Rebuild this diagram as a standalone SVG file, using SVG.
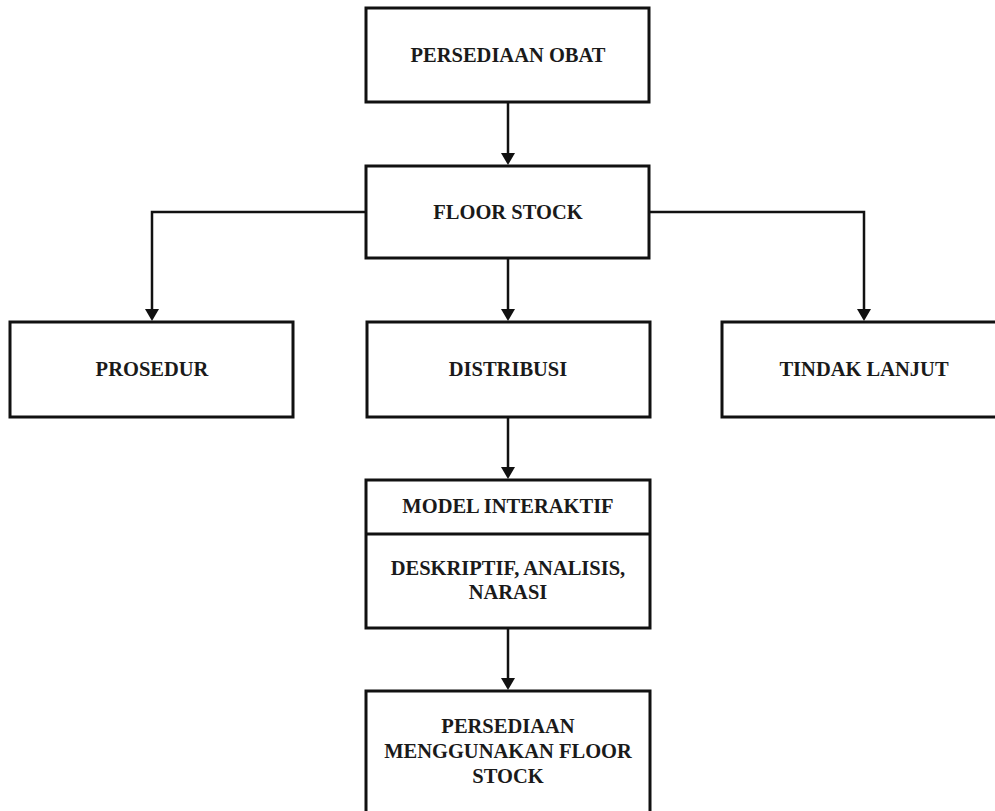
<svg xmlns="http://www.w3.org/2000/svg" width="995" height="811" viewBox="0 0 995 811">
<defs>
<style>
.box{fill:#fff;stroke:#111;stroke-width:3}
.t{font-family:"Liberation Serif","Times New Roman",serif;font-weight:bold;font-size:20.5px;fill:#1a1a1a;text-anchor:middle}
.c{fill:none;stroke:#111;stroke-width:2.5}
.ah{fill:#111}
</style>
</defs>
<rect width="995" height="811" fill="#fff"/>
<g id="connectors">
<path class="c" d="M508,102 V154"/>
<path class="ah" d="M501,153 L515,153 L508,165 Z"/>
<path class="c" d="M366,212 H152 V310"/>
<path class="ah" d="M145,309 L159,309 L152,321 Z"/>
<path class="c" d="M649,212 H864 V310"/>
<path class="ah" d="M857,309 L871,309 L864,321 Z"/>
<path class="c" d="M508,258 V310"/>
<path class="ah" d="M501,309 L515,309 L508,321 Z"/>
<path class="c" d="M508,417 V468"/>
<path class="ah" d="M501,467 L515,467 L508,479 Z"/>
<path class="c" d="M508,628 V679"/>
<path class="ah" d="M501,678 L515,678 L508,690 Z"/>
</g>
<g id="persediaan-obat">
<rect class="box" x="366" y="8" width="283" height="94"/>
<text class="t" x="508" y="62">PERSEDIAAN OBAT</text>
</g>
<g id="floor-stock">
<rect class="box" x="366" y="166" width="283" height="92"/>
<text class="t" x="508" y="219">FLOOR STOCK</text>
</g>
<g id="prosedur">
<rect class="box" x="10" y="322" width="283" height="95"/>
<text class="t" x="152" y="376">PROSEDUR</text>
</g>
<g id="distribusi">
<rect class="box" x="367" y="322" width="283" height="95"/>
<text class="t" x="508" y="376">DISTRIBUSI</text>
</g>
<g id="tindak-lanjut">
<rect class="box" x="722" y="322" width="290" height="95"/>
<text class="t" x="864" y="376">TINDAK LANJUT</text>
</g>
<g id="model-interaktif">
<rect class="box" x="366" y="480" width="284" height="148"/>
<line x1="366" y1="534" x2="650" y2="534" stroke="#111" stroke-width="3"/>
<text class="t" x="508" y="513">MODEL INTERAKTIF</text>
<text class="t" x="508" y="575">DESKRIPTIF, ANALISIS,</text>
<text class="t" x="508" y="599">NARASI</text>
</g>
<g id="persediaan-floor-stock">
<rect class="box" x="366" y="691" width="284" height="140"/>
<text class="t" x="508" y="733">PERSEDIAAN</text>
<text class="t" x="508" y="758">MENGGUNAKAN FLOOR</text>
<text class="t" x="508" y="783">STOCK</text>
</g>
</svg>
